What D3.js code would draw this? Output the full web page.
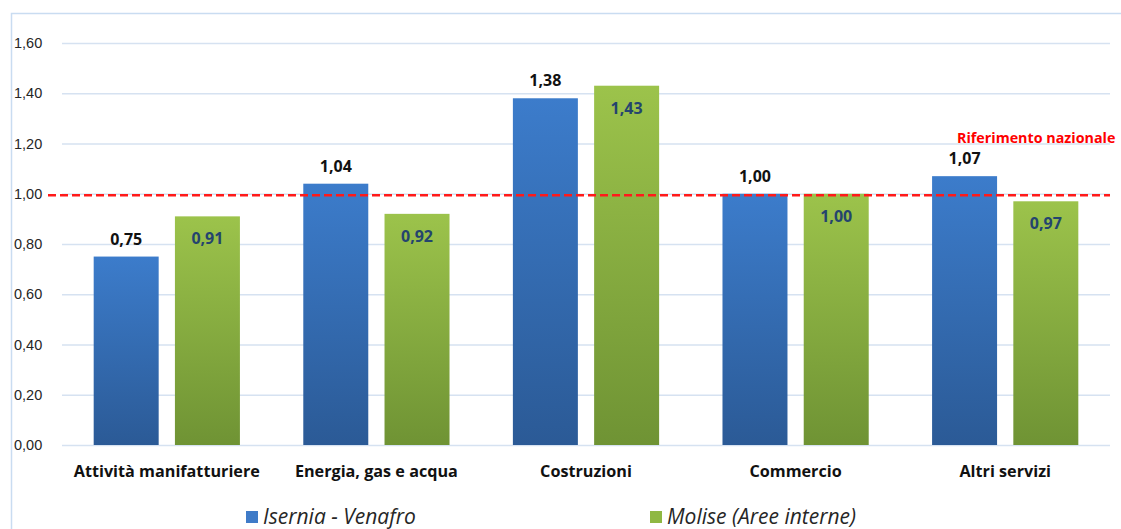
<!DOCTYPE html>
<html>
<head>
<meta charset="utf-8">
<script src="https://cdn.jsdelivr.net/npm/d3@7/dist/d3.min.js"></script>
<style>
  body { margin: 0; background: #fff; }
  svg { display: block; font-family: "Open Sans", Lato, sans-serif; }
</style>
</head>
<body>
<svg id="chart" width="1121" height="529"></svg>
<script>
// data
const categories = ['Attività manifatturiere', 'Energia, gas e acqua', 'Costruzioni', 'Commercio', 'Altri servizi'];
const seriesNames = ['Isernia - Venafro', 'Molise (Aree interne)'];
const isernia = [0.75, 1.04, 1.38, 1.00, 1.07];
const molise = [0.91, 0.92, 1.43, 1.00, 0.97];
const yTicks = [0, 0.2, 0.4, 0.6, 0.8, 1.0, 1.2, 1.4, 1.6];
const reference = 1.0;

const svg = d3.select('#chart');
const margin = {left: 62, right: 11, top: 43, bottom: 84};
const width = 1121, height = 529;

const fmt = function(v) { return d3.format('.2f')(v).replace('.', ','); };

// chart frame
svg.append('rect')
    .attr('x', 11.5).attr('y', 13.5)
    .attr('width', 1130).attr('height', 540)
    .attr('fill', 'none')
    .attr('stroke', '#c9dcf1')
    .attr('stroke-width', 1.5);

const x = d3.scaleBand()
    .domain(categories)
    .range([margin.left, width - margin.right]);

const x1 = d3.scaleBand()
    .domain([0, 1])
    .range([0, x.bandwidth()])
    .paddingInner(0.2)
    .paddingOuter(0.39);

const y = d3.scaleLinear()
    .domain([0, 1.6])
    .range([height - margin.bottom, margin.top]);

// gradients
const defs = svg.append('defs');
function grad(id, top, bottom) {
    let g = defs.append('linearGradient').attr('id', id)
        .attr('x1', 0).attr('y1', 0).attr('x2', 0).attr('y2', 1);
    g.append('stop').attr('offset', '0%').attr('stop-color', top);
    g.append('stop').attr('offset', '100%').attr('stop-color', bottom);
}
grad('gBlue', '#3c7ccb', '#2b5a96');
grad('gGreen', '#9cc34b', '#6f9334');

// gridlines + y labels
const yAxis = d3.axisLeft(y)
    .tickValues(yTicks)
    .tickSize(-(width - margin.right - margin.left))
    .tickFormat(fmt);

const ya = svg.append('g')
    .attr('transform', 'translate(' + margin.left + ',0)')
    .call(yAxis);
ya.select('.domain').remove();
ya.selectAll('.tick line').attr('stroke', '#d6e2f1').attr('stroke-width', 1.5);
ya.selectAll('.tick text')
    .attr('fill', '#262626')
    .style('font-size', '14.5px')
    .attr('text-anchor', 'start')
    .attr('x', -48);

// bars
const series = [isernia, molise];
const fills = ['url(#gBlue)', 'url(#gGreen)'];

series.forEach(function(vals, s) {
    svg.append('g')
        .selectAll('rect')
        .data(vals)
        .enter().append('rect')
        .attr('x', function(d, i) { return x(categories[i]) + x1(s); })
        .attr('y', function(d) { return y(d); })
        .attr('width', x1.bandwidth())
        .attr('height', function(d) { return y(0) - y(d); })
        .attr('fill', fills[s]);
});

// reference line
svg.append('line')
    .attr('x1', 48).attr('x2', width - margin.right)
    .attr('y1', y(reference) + 1.5).attr('y2', y(reference) + 1.5)
    .attr('stroke', '#ff1a1a')
    .attr('stroke-width', 2.5)
    .attr('stroke-dasharray', '8,4');

svg.append('text')
    .attr('x', 957).attr('y', 143)
    .text('Riferimento nazionale')
    .style('font-weight', 'bold')
    .style('font-size', '14.3px')
    .attr('fill', '#ff0000');

// value labels
svg.append('g')
    .selectAll('text')
    .data(isernia)
    .enter().append('text')
    .attr('x', function(d, i) { return x(categories[i]) + x1(0) + x1.bandwidth() / 2; })
    .attr('y', function(d) { return y(d) - 12; })
    .attr('text-anchor', 'middle')
    .text(fmt)
    .style('font-weight', 'bold')
    .style('font-size', '16px')
    .attr('fill', '#111');

svg.append('g')
    .selectAll('text')
    .data(molise)
    .enter().append('text')
    .attr('x', function(d, i) { return x(categories[i]) + x1(1) + x1.bandwidth() / 2; })
    .attr('y', function(d) { return y(d) + 28; })
    .attr('text-anchor', 'middle')
    .text(fmt)
    .style('font-weight', 'bold')
    .style('font-size', '16px')
    .attr('fill', '#24446e');

// category labels
svg.append('g')
    .selectAll('text')
    .data(categories)
    .enter().append('text')
    .attr('x', function(d) { return x(d) + x.bandwidth() / 2; })
    .attr('y', 477)
    .attr('text-anchor', 'middle')
    .text(function(d) { return d; })
    .style('font-weight', 'bold')
    .style('font-size', '16.2px')
    .attr('fill', '#111');

// legend
const legendX = [246, 650];
const legendFill = ['#3f7bc8', '#8fb843'];
seriesNames.forEach(function(name, i) {
    svg.append('rect')
        .attr('x', legendX[i]).attr('y', 511)
        .attr('width', 12).attr('height', 12)
        .attr('fill', legendFill[i]);
    svg.append('text')
        .attr('x', legendX[i] + 17).attr('y', 524)
        .text(name)
        .style('font-style', 'italic')
        .style('font-size', '21px')
        .attr('fill', '#262626');
});
</script>
</body>
</html>
